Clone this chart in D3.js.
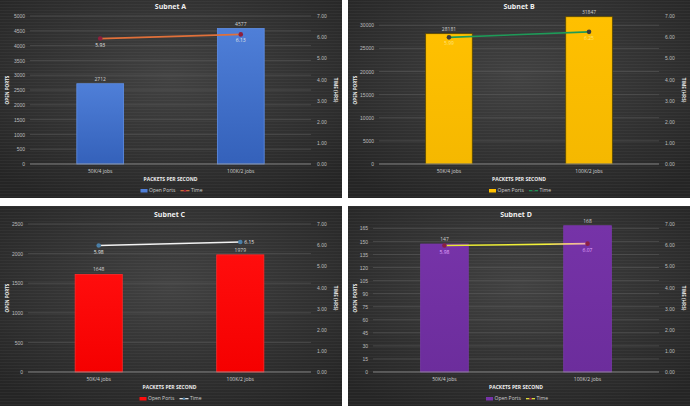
<!DOCTYPE html>
<html>
<head>
<meta charset="utf-8">
<script src="https://cdn.jsdelivr.net/npm/d3@7"></script>
<style>
  html, body { margin: 0; padding: 0; background: #ffffff; }
  svg { display: block; font-family: "Open Sans", Lato, sans-serif; }
</style>
</head>
<body>
<svg id="chart" width="690" height="406"></svg>
<script>
// chart data
var categories = ["50K/4 jobs", "100K/2 jobs"];
var subnetNames = ["Subnet A", "Subnet B", "Subnet C", "Subnet D"];

var openPortsA = [2712, 4577];
var openPortsB = [28181, 31847];
var openPortsC = [1648, 1979];
var openPortsD = [147, 168];

var timeA = [5.93, 6.13];
var timeB = [5.99, 6.25];
var timeC = [5.98, 6.15];
var timeD = [5.98, 6.07];

// left axis: domain max, tick step, last labelled tick
var portAxisMax = [5000, 32000, 2500, 170];
var portAxisStep = [500, 5000, 500, 15];
var portAxisTop = [5000, 30000, 2500, 165];
var timeTicks = [0, 1, 2, 3, 4, 5, 6, 7];

var svg = d3.select("#chart");
var defs = svg.append("defs");

var panelW = 342, panelH = 200;
var panels = [
	{x: 0, y: -2, left: 30, ports: openPortsA, time: timeA,
		bar: ["#4f7fd8", "#3461ba"], barStroke: "#5f8fe6", line: "#e0703a", marker: "#8e1f3c",
		timeLabel: "#e6e6e6", timeLabelSide: ["below", "below"]},
	{x: 348, y: -2, left: 31, ports: openPortsB, time: timeB,
		bar: ["#ffc000", "#f5b800"], barStroke: "#5c4a00", line: "#1e9a58", marker: "#3b3b3b",
		timeLabel: "#ffe27a", timeLabelSide: ["below", "below"]},
	{x: 0, y: 206, left: 28, ports: openPortsC, time: timeC,
		bar: ["#ff0d0d", "#f50000"], barStroke: "#ff2a2a", line: "#f2f2f2", marker: "#4a7fa8",
		timeLabel: "#e6e6e6", timeLabelSide: ["below", "right"]},
	{x: 348, y: 206, left: 25, ports: openPortsD, time: timeD,
		bar: ["#7633a8", "#6c2d9c"], barStroke: "#7b38ad", line: "url(#lineGradD)", marker: "#8a1f45",
		timeLabel: "#e2a6ff", timeLabelSide: ["below", "below"]}
];

// background
var bg = defs.append("radialGradient").attr("id", "panelBg")
	.attr("cx", "50%").attr("cy", "40%").attr("r", "70%");
bg.append("stop").attr("offset", "0%").attr("stop-color", "#424242");
bg.append("stop").attr("offset", "100%").attr("stop-color", "#252525");

// faint horizontal texture
var pat = defs.append("pattern").attr("id", "stripes")
	.attr("width", 6).attr("height", 3).attr("patternUnits", "userSpaceOnUse");
pat.append("rect").attr("width", 6).attr("height", 1).attr("fill", "#ffffff").attr("opacity", 0.035);

var lg = defs.append("linearGradient").attr("id", "lineGradD")
	.attr("x1", "0%").attr("x2", "100%").attr("y1", "0%").attr("y2", "0%");
lg.append("stop").attr("offset", "0%").attr("stop-color", "#e6e830");
lg.append("stop").attr("offset", "70%").attr("stop-color", "#f2f23a");
lg.append("stop").attr("offset", "100%").attr("stop-color", "#f0a8b8");

panels.forEach(function (p, i) {
	var grad = defs.append("linearGradient").attr("id", "barGrad" + i)
		.attr("x1", "0%").attr("x2", "0%").attr("y1", "0%").attr("y2", "100%");
	grad.append("stop").attr("offset", "0%").attr("stop-color", p.bar[0]);
	grad.append("stop").attr("offset", "100%").attr("stop-color", p.bar[1]);

	var g = svg.append("g").attr("transform", "translate(" + p.x + "," + p.y + ")");
	g.append("rect").attr("width", panelW).attr("height", panelH).attr("fill", "url(#panelBg)");
	g.append("rect").attr("width", panelW).attr("height", panelH).attr("fill", "url(#stripes)");

	var top = 18, bottom = 166;
	var left = p.left, right = panelW - 31;

	var x = d3.scaleBand().domain(categories).range([left, right])
		.paddingInner(0.667).paddingOuter(0.333);
	var y = d3.scaleLinear().domain([0, portAxisMax[i]]).range([bottom, top]);
	var yT = d3.scaleLinear().domain([0, 7]).range([bottom, top]);

	var portTicks = d3.range(0, portAxisTop[i] + 1, portAxisStep[i]);

	// gridlines
	g.append("g").selectAll("line").data(portTicks.slice(1)).enter().append("line")
		.attr("x1", left).attr("x2", right)
		.attr("y1", function (d) { return y(d); }).attr("y2", function (d) { return y(d); })
		.attr("stroke", "#5a5a5a").attr("stroke-width", 0.6);

	// left axis
	var ax = g.append("g").attr("transform", "translate(" + (left - 5) + ",0)")
		.call(d3.axisLeft(y).tickValues(portTicks).tickFormat(d3.format("d")).tickSize(0).tickPadding(0));
	ax.select(".domain").remove();
	ax.selectAll("text").attr("fill", "#bdbdbd").attr("font-size", 5);

	// right axis
	var axR = g.append("g").attr("transform", "translate(" + (right + 6) + ",0)")
		.call(d3.axisRight(yT).tickValues(timeTicks).tickFormat(d3.format(".2f")).tickSize(0).tickPadding(0));
	axR.select(".domain").remove();
	axR.selectAll("text").attr("fill", "#bdbdbd").attr("font-size", 5);

	// bars
	g.append("g").selectAll("rect").data(p.ports).enter().append("rect")
		.attr("x", function (d, j) { return x(categories[j]); })
		.attr("y", function (d) { return y(d); })
		.attr("width", x.bandwidth())
		.attr("height", function (d) { return bottom - y(d); })
		.attr("fill", "url(#barGrad" + i + ")")
		.attr("stroke", p.barStroke).attr("stroke-width", 0.8);

	// baseline
	g.append("line").attr("x1", left).attr("x2", right).attr("y1", bottom).attr("y2", bottom)
		.attr("stroke", "#9a9a9a").attr("stroke-width", 0.8);

	// bar labels
	g.append("g").selectAll("text").data(p.ports).enter().append("text")
		.attr("x", function (d, j) { return x(categories[j]) + x.bandwidth() / 2; })
		.attr("y", function (d) { return y(d) - 3; })
		.attr("text-anchor", "middle").attr("font-size", 5).attr("fill", "#d0d0d0")
		.text(function (d) { return d; });

	// time line
	var cx = function (j) { return x(categories[j]) + x.bandwidth() / 2; };
	var line = d3.line().x(function (d, j) { return cx(j); }).y(function (d) { return yT(d); });
	g.append("path").datum(p.time).attr("d", line)
		.attr("fill", "none").attr("stroke", p.line).attr("stroke-width", 1.6);
	g.append("g").selectAll("circle").data(p.time).enter().append("circle")
		.attr("cx", function (d, j) { return cx(j); })
		.attr("cy", function (d) { return yT(d); })
		.attr("r", 2.3).attr("fill", p.marker);

	g.append("g").selectAll("text").data(p.time).enter().append("text")
		.attr("x", function (d, j) { return p.timeLabelSide[j] == "right" ? cx(j) + 4 : cx(j); })
		.attr("y", function (d, j) { return p.timeLabelSide[j] == "right" ? yT(d) + 2 : yT(d) + 8; })
		.attr("text-anchor", function (d, j) { return p.timeLabelSide[j] == "right" ? "start" : "middle"; })
		.attr("font-size", 5).attr("fill", p.timeLabel)
		.text(function (d) { return d.toFixed(2); });

	// category labels
	g.append("g").selectAll("text").data(categories).enter().append("text")
		.attr("x", function (d) { return x(d) + x.bandwidth() / 2; })
		.attr("y", 175)
		.attr("text-anchor", "middle").attr("font-size", 5).attr("fill", "#cfcfcf")
		.text(String);

	// titles
	var mid = (left + right) / 2;
	g.append("text").attr("x", mid).attr("y", 11).attr("text-anchor", "middle")
		.attr("font-size", 7).attr("font-weight", "bold").attr("fill", "#f0f0f0").text(subnetNames[i]);
	g.append("text").attr("x", mid).attr("y", 183).attr("text-anchor", "middle")
		.attr("font-size", 5).attr("font-weight", "bold").attr("fill", "#eeeeee").text("PACKETS PER SECOND");
	g.append("text").attr("transform", "translate(9," + ((top + bottom) / 2) + ") rotate(-90)")
		.attr("text-anchor", "middle").attr("font-size", 4.6).attr("font-weight", "bold")
		.attr("fill", "#eeeeee").text("OPEN PORTS");
	g.append("text").attr("transform", "translate(334," + ((top + bottom) / 2) + ") rotate(90)")
		.attr("text-anchor", "middle").attr("font-size", 4.6).attr("font-weight", "bold")
		.attr("fill", "#eeeeee").text("TIME (HRS)");

	// legend
	var leg = g.append("g").attr("transform", "translate(" + (mid - 30) + ",194)");
	leg.append("rect").attr("x", 0).attr("y", -3).attr("width", 7).attr("height", 3.5)
		.attr("fill", p.bar[0]);
	leg.append("text").attr("x", 8.5).attr("y", 0.3).attr("font-size", 5).attr("fill", "#cfcfcf").text("Open Ports");
	leg.append("line").attr("x1", 40).attr("x2", 49).attr("y1", -1.3).attr("y2", -1.3)
		.attr("stroke", p.line == "url(#lineGradD)" ? "#f2f23a" : p.line).attr("stroke-width", 1.2);
	leg.append("circle").attr("cx", 44.5).attr("cy", -1.3).attr("r", 1.3).attr("fill", p.marker);
	leg.append("text").attr("x", 50.5).attr("y", 0.3).attr("font-size", 5).attr("fill", "#cfcfcf").text("Time");
});
</script>
</body>
</html>
